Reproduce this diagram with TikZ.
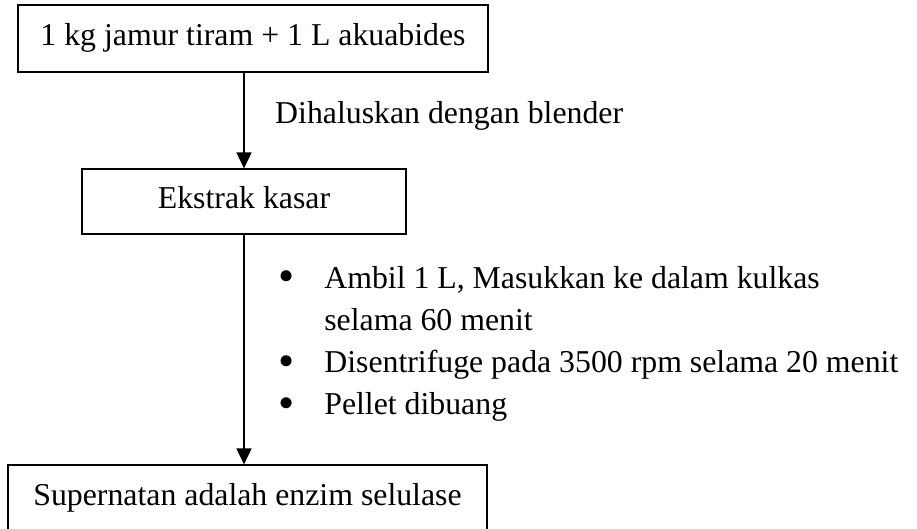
\documentclass[tikz,border=0pt]{standalone}
\usepackage{fontspec}
\setmainfont{Liberation Serif}
\usepackage{tikz}
\usetikzlibrary{arrows.meta,calc,positioning}
\newcommand{\butir}{\raisebox{-0.12em}{\scalebox{1.45}{\textbullet}}}

\begin{document}
\begin{tikzpicture}[x=1pt,y=-1pt,>={Triangle[length=16pt,width=15pt]},
    font=\fontsize{31.8}{42.3}\selectfont,
    stepbox/.style={draw,line width=1.2pt,inner sep=0pt,
      text height=22pt,text depth=8pt},
    flow/.style={->,line width=1.8pt}]

    \useasboundingbox (0,0) rectangle (917,528);

    \node[stepbox,minimum width=470,minimum height=67] (jamur) at (253,38.5)
      {1 kg jamur tiram + 1 L akuabides};
    \node[stepbox,minimum width=324,minimum height=65] (ekstrak) at (244,201.5)
      {Ekstrak kasar};
    \node[stepbox,minimum width=479,minimum height=67] (enzim) at (247.5,498.5)
      {Supernatan adalah enzim selulase};
    \coordinate (spine) at (244,0);

    \draw[flow] (jamur.south -| spine) -- (ekstrak.north -| spine);
    \draw[flow] (ekstrak.south -| spine) -- (enzim.north -| spine);

    \node[anchor=base west,inner sep=0pt] (haluskan) at (275,123)
      {Dihaluskan dengan blender};
    \node[anchor=base west,inner sep=0pt] (langkah) at (278,288)
      {\begin{tabular}[t]{@{}l@{\hspace{30pt}}l@{}}
        \butir & Ambil 1 L, Masukkan ke dalam kulkas\\
               & selama 60 menit\\
        \butir & Disentrifuge pada 3500 rpm selama 20 menit\\
        \butir & Pellet dibuang
      \end{tabular}};
  \end{tikzpicture}
\end{document}
